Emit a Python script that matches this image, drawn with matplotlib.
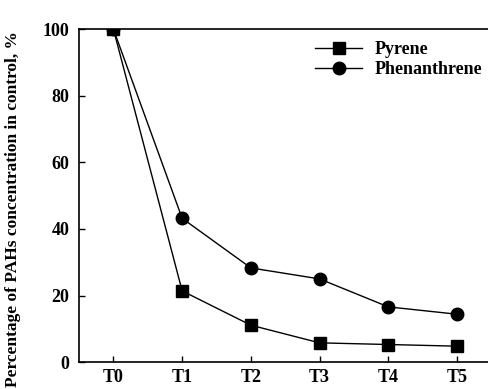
import matplotlib
matplotlib.use('Agg')
import matplotlib.pyplot as plt

times = ['T0', 'T1', 'T2', 'T3', 'T4', 'T5']
pyrene = [100, 21.4, 11.1, 5.8, 5.3, 4.8]
phenanthrene = [100, 43.2, 28.3, 25.0, 16.6, 14.4]

plt.rcParams['font.family'] = 'Liberation Serif'
plt.rcParams['font.weight'] = 'bold'

fig = plt.figure(figsize=(4.88, 3.89), dpi=100)
ax = fig.add_axes([0.162, 0.069, 0.845, 0.856])

x = range(len(times))
ax.plot(x, pyrene, color='black', marker='s', markersize=8.5, linewidth=1, label='Pyrene')
ax.plot(x, phenanthrene, color='black', marker='o', markersize=9, linewidth=1, label='Phenanthrene')

ax.set_xlim(-0.5, 5.5)
ax.set_ylim(0, 100)
ax.set_xticks(list(x))
ax.set_xticklabels(times)
ax.set_yticks([0, 20, 40, 60, 80, 100])
ax.tick_params(direction='in', labelsize=13, length=4, width=1)
ax.tick_params(axis='x', pad=5)
ax.tick_params(axis='y', pad=7)
for lab in ax.get_xticklabels() + ax.get_yticklabels():
    lab.set_fontweight('bold')
ax.spines['right'].set_visible(False)
for s in ['left', 'bottom', 'top']:
    ax.spines[s].set_linewidth(1.2)

ax.set_ylabel('Percentage of PAHs concentration in control, %', fontsize=12.5, fontweight='bold')
ax.yaxis.set_label_coords(-0.14, 0.46)

ax.legend(loc='upper left', bbox_to_anchor=(0.555, 0.985), frameon=False,
          handlelength=2.6, handletextpad=0.7, labelspacing=0.15, borderaxespad=0,
          prop={'weight': 'bold', 'size': 13})

fig.savefig('out.png', dpi=100)
